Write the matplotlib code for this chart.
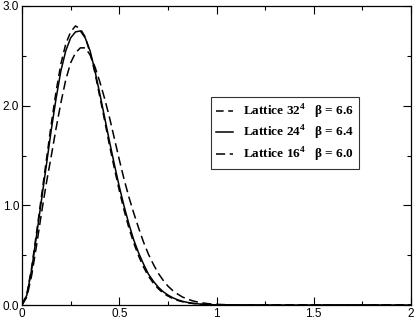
import numpy as np
import matplotlib
matplotlib.use("Agg")
import matplotlib.pyplot as plt
from matplotlib.ticker import MultipleLocator, FixedFormatter, FixedLocator

plt.rcParams['mathtext.fontset'] = 'custom'
plt.rcParams['mathtext.rm'] = 'Liberation Serif:bold'
plt.rcParams['mathtext.bf'] = 'Liberation Serif:bold'

x_vals = [0.0, 0.025, 0.05, 0.075, 0.1, 0.125, 0.15, 0.175, 0.2, 0.225, 0.25,
          0.275, 0.3, 0.325, 0.35, 0.375, 0.4, 0.425, 0.45, 0.475, 0.5, 0.525,
          0.55, 0.575, 0.6, 0.625, 0.65, 0.675, 0.7, 0.725, 0.75, 0.775, 0.8,
          0.825, 0.85, 0.875, 0.9, 0.925, 0.95, 0.975, 1.0, 1.025, 1.05, 1.075,
          1.1, 1.2, 1.4, 1.6, 1.8, 2.0]

lat32 = [0.0, 0.11, 0.38, 0.73, 1.09, 1.45, 1.81, 2.14, 2.42, 2.62, 2.74,
         2.80, 2.77, 2.69, 2.53, 2.33, 2.09, 1.85, 1.60, 1.37, 1.15, 0.95,
         0.77, 0.62, 0.49, 0.38, 0.29, 0.22, 0.165, 0.12, 0.09, 0.065, 0.046,
         0.033, 0.023, 0.016, 0.011, 0.007, 0.005, 0.003, 0.002, 0.001, 0.001, 0.0,
         0.0, 0.0, 0.0, 0.0, 0.0, 0.0]

lat24 = [0.0, 0.10, 0.36, 0.70, 1.05, 1.40, 1.75, 2.07, 2.35, 2.55, 2.68,
         2.74, 2.75, 2.68, 2.55, 2.35, 2.12, 1.88, 1.64, 1.41, 1.19, 0.99,
         0.81, 0.65, 0.52, 0.41, 0.31, 0.24, 0.18, 0.135, 0.10, 0.073, 0.052,
         0.037, 0.026, 0.018, 0.012, 0.008, 0.005, 0.003, 0.002, 0.001, 0.001, 0.0,
         0.0, 0.0, 0.0, 0.0, 0.0, 0.0]

lat16 = [0.0, 0.08, 0.30, 0.60, 0.92, 1.22, 1.49, 1.77, 2.03, 2.26, 2.43,
         2.53, 2.58, 2.58, 2.51, 2.39, 2.24, 2.07, 1.88, 1.67, 1.46, 1.26,
         1.08, 0.92, 0.77, 0.63, 0.51, 0.41, 0.32, 0.25, 0.19, 0.145, 0.11,
         0.08, 0.06, 0.043, 0.031, 0.022, 0.015, 0.010, 0.007, 0.005, 0.003, 0.002,
         0.001, 0.0, 0.0, 0.0, 0.0, 0.0]

labels = [r"Lattice 32$^{4}$   β = 6.6",
          r"Lattice 24$^{4}$   β = 6.4",
          r"Lattice 16$^{4}$   β = 6.0"]

x_ticks = [0, 0.5, 1, 1.5, 2]
x_ticklabels = ["0", "0.5", "1", "1.5", "2"]
y_ticks = [0, 1, 2, 3]
y_ticklabels = ["0.0", "1.0", "2.0", "3.0"]

fig = plt.figure(figsize=(4.15, 3.21), dpi=100)
ax = fig.add_axes([22/415, 16/321, 389/415, 299/321])

ax.plot(x_vals, lat32, color='black', lw=1.1, ls=(0, (5, 3)), label=labels[0])
ax.plot(x_vals, lat24, color='black', lw=1.1, ls='-', label=labels[1])
ax.plot(x_vals, lat16, color='black', lw=1.1, ls=(0, (6, 3)), label=labels[2])

ax.set_xlim(0, 2)
ax.set_ylim(0, 3)
ax.xaxis.set_major_locator(FixedLocator(x_ticks))
ax.xaxis.set_major_formatter(FixedFormatter(x_ticklabels))
ax.yaxis.set_major_locator(FixedLocator(y_ticks))
ax.yaxis.set_major_formatter(FixedFormatter(y_ticklabels))
ax.xaxis.set_minor_locator(MultipleLocator(0.25))
ax.yaxis.set_minor_locator(MultipleLocator(0.5))
ax.tick_params(which='both', direction='in', top=True, right=True,
               labelsize=8.5, width=0.8, pad=2)
ax.tick_params(which='major', length=6)
ax.tick_params(which='minor', length=3)
for lab in ax.get_xticklabels() + ax.get_yticklabels():
    lab.set_family('Liberation Sans')
for s in ax.spines.values():
    s.set_linewidth(0.9)

leg = ax.legend(loc='upper left', bbox_to_anchor=(189/389, 1 - 91/299),
                frameon=True, fancybox=False, edgecolor='black',
                prop={'family': 'Liberation Serif', 'weight': 'bold', 'size': 9.5},
                handlelength=1.3, handletextpad=0.7, labelspacing=0.25,
                borderpad=0.4, borderaxespad=0)
leg.get_frame().set_linewidth(0.8)

fig.savefig("out.png", dpi=100)
